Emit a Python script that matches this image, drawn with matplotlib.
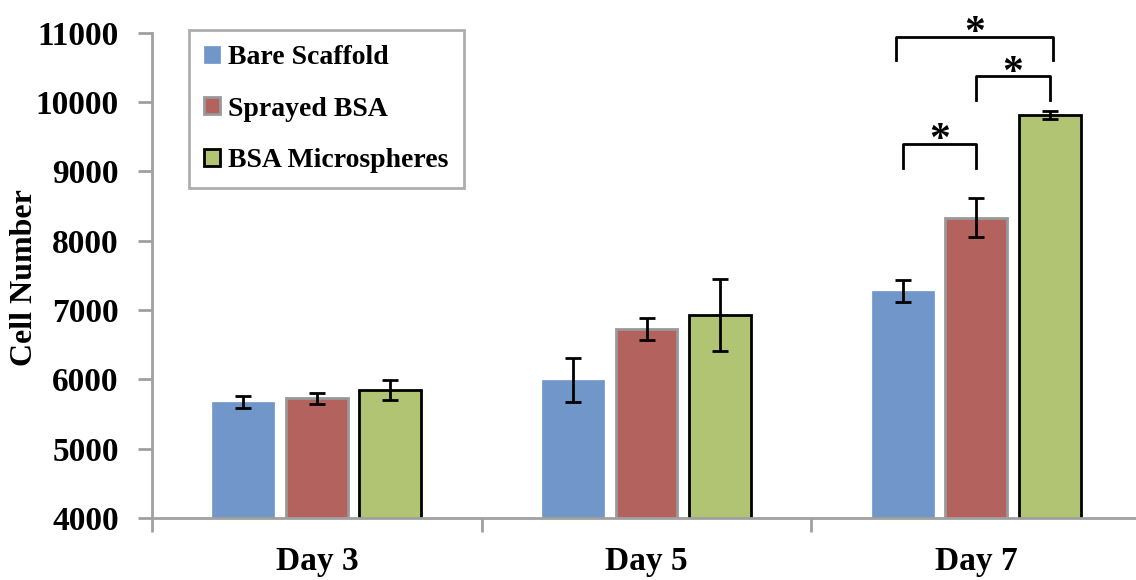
import numpy as np
import matplotlib
matplotlib.use('Agg')
import matplotlib.pyplot as plt

days = ['Day 3', 'Day 5', 'Day 7']
series = ['Bare Scaffold', 'Sprayed BSA', 'BSA Microspheres']
bare = [5670, 5990, 7275]
sprayed = [5725, 6725, 8330]
micro = [5845, 6930, 9815]
bare_err = [85, 315, 160]
sprayed_err = [80, 160, 280]
micro_err = [140, 520, 55]

# significance brackets on Day 7: (left series, right series, leg bottom, bar top)
brackets = [(0, 1, 9050, 9400), (1, 2, 10035, 10375), (0, 2, 10600, 10945)]

colors = ['#7196C9', '#B4625E', '#B1C473']
edges = ['#7196C9', '#999999', 'black']

plt.rcParams['font.family'] = ['Liberation Serif', 'DejaVu Serif']
plt.rcParams['font.weight'] = 'bold'

fig = plt.figure(figsize=(11.36, 5.8), dpi=100)
ax = fig.add_axes([152/1136, 62/580, 989/1136, 485.3/580])

x = np.arange(len(days))
step = 0.223
width = 0.188
values = [bare, sprayed, micro]
errs = [bare_err, sprayed_err, micro_err]
for i in range(3):
    pos = x + (i - 1) * step
    ax.bar(pos, values[i], width, color=colors[i], edgecolor=edges[i],
           linewidth=2 if i else 0.5, label=series[i], zorder=2)
    ax.errorbar(pos, values[i], yerr=errs[i], fmt='none', ecolor='black',
                elinewidth=2, capsize=6, capthick=2, zorder=3)

for a, b, y0, y1 in brackets:
    xa = 2 + (a - 1) * step - (0.02 if (a, b) == (0, 2) else 0)
    xb = 2 + (b - 1) * step + (0.01 if (a, b) == (0, 2) else 0)
    ax.plot([xa, xa, xb, xb], [y0, y1, y1, y0], color='black', lw=2,
            clip_on=False, zorder=4)
    ax.text((xa + xb) / 2, y1 - 110, '*', ha='center', va='baseline',
            fontsize=30, fontweight='bold', clip_on=False)

ax.set_ylim(4000, 11000)
ax.set_yticks(range(4000, 11001, 1000))
ax.set_xlim(-0.5, 2.5)
ax.set_xticks(x)
ax.set_xticklabels(days)
ax.set_xticks([-0.5, 0.5, 1.5, 2.5], minor=True)
ax.tick_params(axis='x', which='major', length=0, pad=20, labelsize=24)
ax.tick_params(axis='x', which='minor', length=10, width=2, color='#A0A0A0')
ax.tick_params(axis='y', length=10, width=2, color='#A0A0A0', pad=14, labelsize=24)
for s in ['top', 'right']:
    ax.spines[s].set_visible(False)
for s in ['left', 'bottom']:
    ax.spines[s].set_color('#A0A0A0')
    ax.spines[s].set_linewidth(2)
ax.set_ylabel('Cell Number', fontsize=23, fontweight='bold', va='center')
ax.yaxis.set_label_coords(-0.129, 0.496)

leg = fig.legend(loc='upper left', bbox_to_anchor=(189/1136, 1 - 30/580),
                 fontsize=20, frameon=True, fancybox=False, edgecolor='#999999',
                 handlelength=0.55, handleheight=0.55, handletextpad=0.3,
                 labelspacing=0.95, borderpad=0.55, borderaxespad=0)
leg.get_frame().set_linewidth(2)

fig.savefig('out.png', dpi=100)
